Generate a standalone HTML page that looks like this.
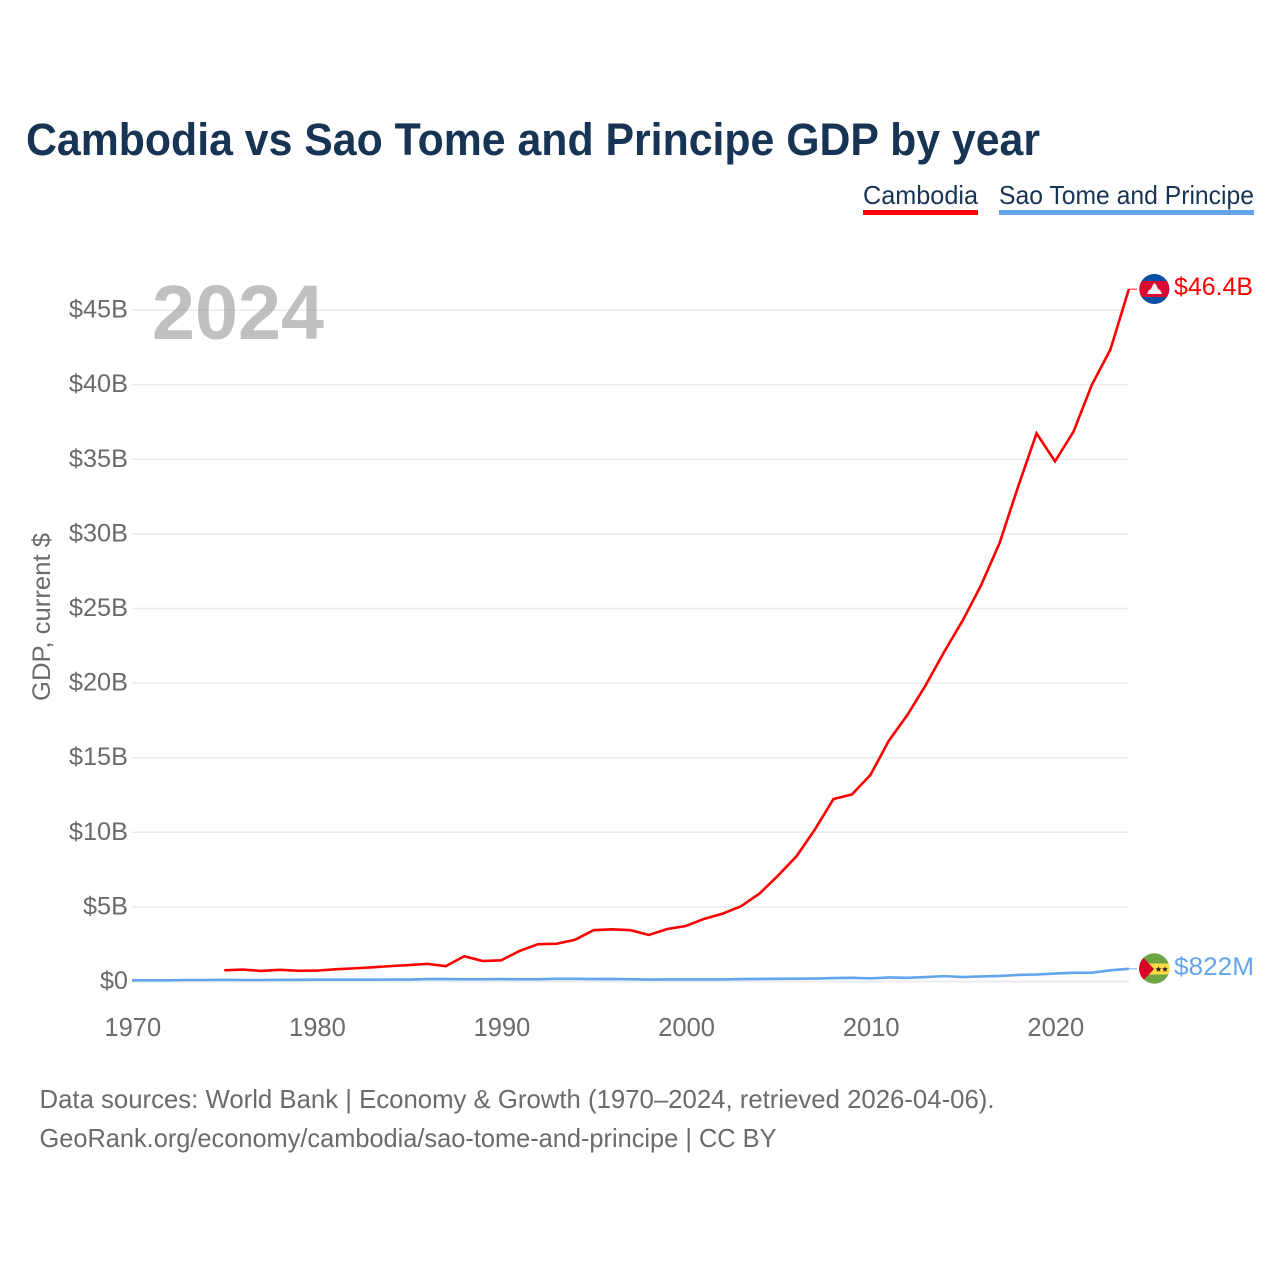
<!DOCTYPE html>
<html lang="en">
<head>
<meta charset="utf-8">
<title>Cambodia vs Sao Tome and Principe GDP by year</title>
<style>
html,body{margin:0;padding:0;background:#fff;width:1280px;height:1280px;overflow:hidden}
svg{display:block;font-family:"Liberation Sans",sans-serif}
</style>
</head>
<body>
<svg id="chart" width="1280" height="1280" viewBox="0 0 1280 1280" xmlns="http://www.w3.org/2000/svg">
<rect width="1280" height="1280" fill="#fff"/>
<text x="26" y="155" font-size="45" font-weight="700" fill="#173454" textLength="1014" lengthAdjust="spacingAndGlyphs">Cambodia vs Sao Tome and Principe GDP by year</text>

<g>
<text x="863" y="204" font-size="26" fill="#173454" textLength="115" lengthAdjust="spacingAndGlyphs">Cambodia</text>
<rect x="863" y="210" width="115" height="5" fill="#ff0000"/>
</g>
<g>
<text x="999" y="204" font-size="26" fill="#173454" textLength="255" lengthAdjust="spacingAndGlyphs">Sao Tome and Principe</text>
<rect x="999" y="210" width="255" height="5" fill="#62a5ec"/>
</g>

<g id="grid"></g>
<g id="yticks"></g>
<g id="xticks"></g>

<text x="152" y="339" font-size="77" font-weight="700" fill="#9a9a9a" fill-opacity="0.62" textLength="172" lengthAdjust="spacingAndGlyphs">2024</text>

<text transform="translate(50,617) rotate(-90)" text-anchor="middle" font-size="25" fill="#6b6b6b" textLength="168" lengthAdjust="spacingAndGlyphs">GDP, current $</text>

<g id="series"></g>

<g>
<clipPath id="clipKh"><circle cx="1154.3" cy="289" r="15"/></clipPath>
<g clip-path="url(#clipKh)">
<rect x="1139" y="273" width="31" height="32" fill="#0b4ea2"/>
<rect x="1139" y="281" width="31" height="16" fill="#dc0a32"/>
<path d="M1147 294 L1149 290 L1151 289 L1153 284.5 L1154.5 283 L1156 284.5 L1158 289 L1160 290 L1162 294 Z" fill="#f0f0f0"/>
</g>
</g>
<g>
<clipPath id="clipSt"><circle cx="1154.3" cy="968.5" r="15.2"/></clipPath>
<g clip-path="url(#clipSt)">
<rect x="1139" y="953" width="31" height="32" fill="#6da544"/>
<rect x="1139" y="963.5" width="31" height="11" fill="#ffda44"/>
<path d="M1139 953 L1154 969 L1139 985 Z" fill="#d80027"/>
<path d="M1158.5 966.2 L1159.3 968.3 L1161.5 968.3 L1159.8 969.7 L1160.4 971.9 L1158.5 970.6 L1156.6 971.9 L1157.2 969.7 L1155.5 968.3 L1157.7 968.3 Z" fill="#222"/>
<path d="M1165 966.2 L1165.8 968.3 L1168 968.3 L1166.3 969.7 L1166.9 971.9 L1165 970.6 L1163.1 971.9 L1163.7 969.7 L1162 968.3 L1164.2 968.3 Z" fill="#222"/>
</g>
</g>

<text x="1174" y="295" font-size="25" fill="#ff0000" textLength="79" lengthAdjust="spacingAndGlyphs">$46.4B</text>
<text x="1174" y="975" font-size="25" fill="#62a5ec" textLength="80" lengthAdjust="spacingAndGlyphs">$822M</text>

<text x="39.5" y="1108" font-size="26" fill="#6b6b6b" textLength="955" lengthAdjust="spacingAndGlyphs">Data sources: World Bank | Economy &amp; Growth (1970–2024, retrieved 2026-04-06).</text>
<text x="39.5" y="1147" font-size="26" fill="#6b6b6b" textLength="737" lengthAdjust="spacingAndGlyphs">GeoRank.org/economy/cambodia/sao-tome-and-principe | CC BY</text>
</svg>
<script>
const yTickValues = [0, 5, 10, 15, 20, 25, 30, 35, 40, 45];
const yTickLabels = ["$0", "$5B", "$10B", "$15B", "$20B", "$25B", "$30B", "$35B", "$40B", "$45B"];
const xTickYears = [1970, 1980, 1990, 2000, 2010, 2020];
const cambodiaStartYear = 1975;
const cambodiaGdp = [0.75, 0.8, 0.71, 0.78, 0.72, 0.73, 0.82, 0.88, 0.95, 1.03, 1.1, 1.18, 1.03, 1.69, 1.37, 1.42, 2.05, 2.5, 2.53, 2.8, 3.44, 3.5, 3.44, 3.12, 3.52, 3.72, 4.2, 4.55, 5.05, 5.9, 7.1, 8.4, 10.2, 12.23, 12.54, 13.84, 16.14, 17.86, 19.87, 22.1, 24.2, 26.57, 29.4, 33.16, 36.74, 34.86, 36.85, 40.0, 42.35, 46.4];
const saoTomeStartYear = 1970;
const saoTomeGdp = [0.08, 0.08, 0.08, 0.1, 0.1, 0.11, 0.1, 0.1, 0.11, 0.11, 0.12, 0.12, 0.12, 0.12, 0.13, 0.13, 0.16, 0.16, 0.15, 0.15, 0.16, 0.15, 0.15, 0.18, 0.18, 0.16, 0.17, 0.15, 0.13, 0.14, 0.14, 0.14, 0.14, 0.16, 0.17, 0.18, 0.19, 0.2, 0.23, 0.25, 0.21, 0.27, 0.25, 0.3, 0.36, 0.3, 0.34, 0.37, 0.44, 0.47, 0.53, 0.58, 0.59, 0.75, 0.85];

const NS = "http://www.w3.org/2000/svg";
const xScale = function (year) { return 132 + (year - 1970) * 18.46; };
const yScale = function (v) { return 981.5 - v * 14.92; };

const grid = document.getElementById("grid");
const yticks = document.getElementById("yticks");
const xticks = document.getElementById("xticks");
const series = document.getElementById("series");

yTickValues.forEach(function (v, i) {
  const line = document.createElementNS(NS, "line");
  
  
  line.setAttribute("x1", xScale(1970));
  line.setAttribute("x2", xScale(2024));
  line.setAttribute("y1", yScale(v));
  line.setAttribute("y2", yScale(v));
  line.setAttribute("stroke", "#ebebeb");
  line.setAttribute("stroke-width", v === 0 ? 2 : 1.5);
  grid.appendChild(line);

  const t = document.createElementNS(NS, "text");
  
  
  t.setAttribute("x", 128);
  t.setAttribute("y", yScale(v) + 7.5);
  t.setAttribute("text-anchor", "end");
  t.setAttribute("font-size", "25.3");
  t.setAttribute("fill", "#6b6b6b");
  t.textContent = yTickLabels[i];
  yticks.appendChild(t);
});

xTickYears.forEach(function (year) {
  const t = document.createElementNS(NS, "text");
  
  
  t.setAttribute("x", xScale(year) + 0.8);
  t.setAttribute("y", 1036);
  t.setAttribute("text-anchor", "middle");
  t.setAttribute("font-size", "25.5");
  t.setAttribute("fill", "#6b6b6b");
  t.textContent = String(year);
  xticks.appendChild(t);
});

function linePoints(startYear, values) {
  return values.map(function (v, i) {
    return xScale(startYear + i).toFixed(2) + "," + yScale(v).toFixed(2);
  }).join(" ");
}

const saoTomeLine = document.createElementNS(NS, "polyline");


saoTomeLine.setAttribute("points", linePoints(saoTomeStartYear, saoTomeGdp));
saoTomeLine.setAttribute("fill", "none");
saoTomeLine.setAttribute("stroke", "#62a5ec");
saoTomeLine.setAttribute("stroke-width", "2.6");
series.appendChild(saoTomeLine);

const cambodiaLine = document.createElementNS(NS, "polyline");


cambodiaLine.setAttribute("points", linePoints(cambodiaStartYear, cambodiaGdp));
cambodiaLine.setAttribute("fill", "none");
cambodiaLine.setAttribute("stroke", "#ff0000");
cambodiaLine.setAttribute("stroke-width", "2.6");
series.appendChild(cambodiaLine);

const cambodiaLeader = document.createElementNS(NS, "line");


cambodiaLeader.setAttribute("x1", xScale(2024));
cambodiaLeader.setAttribute("x2", 1137);
cambodiaLeader.setAttribute("y1", yScale(cambodiaGdp[cambodiaGdp.length - 1]));
cambodiaLeader.setAttribute("y2", yScale(cambodiaGdp[cambodiaGdp.length - 1]));
cambodiaLeader.setAttribute("stroke", "#ff0000");
cambodiaLeader.setAttribute("stroke-opacity", "0.6");
cambodiaLeader.setAttribute("stroke-width", "1.5");
series.appendChild(cambodiaLeader);

const saoTomeLeader = document.createElementNS(NS, "line");


saoTomeLeader.setAttribute("x1", xScale(2024));
saoTomeLeader.setAttribute("x2", 1137);
saoTomeLeader.setAttribute("y1", yScale(saoTomeGdp[saoTomeGdp.length - 1]));
saoTomeLeader.setAttribute("y2", yScale(saoTomeGdp[saoTomeGdp.length - 1]));
saoTomeLeader.setAttribute("stroke", "#62a5ec");
saoTomeLeader.setAttribute("stroke-opacity", "0.6");
saoTomeLeader.setAttribute("stroke-width", "1.5");
series.appendChild(saoTomeLeader);
</script>
</body>
</html>
